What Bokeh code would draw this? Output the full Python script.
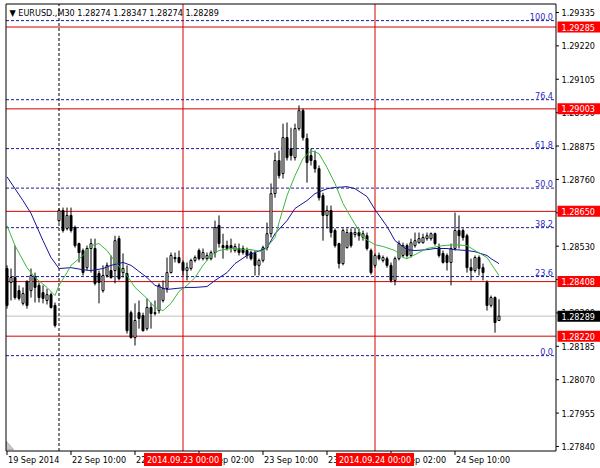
from bokeh.plotting import figure
from bokeh.models import Range1d, ColumnDataSource
from bokeh.core.properties import value
from bokeh.embed import file_html
from bokeh.resources import INLINE

# ---------------- data ----------------
symbol = "EURUSD.,M30"
last_ohlc = [1.28274, 1.28347, 1.28274, 1.28289]

opens = [
    1.28453, 1.28405, 1.28422, 1.28377, 1.28333, 1.28409, 1.28377, 1.28425, 1.28395, 1.28370,
    1.28343, 1.28363, 1.28326, 1.28618, 1.28653, 1.28591, 1.28636, 1.28594, 1.28539, 1.28515,
    1.28456, 1.28522, 1.28522, 1.28436, 1.28377, 1.28429, 1.28446, 1.28446, 1.28556, 1.28439,
    1.28436, 1.28301, 1.28215, 1.28301, 1.28291, 1.28246, 1.28319, 1.28298, 1.28308, 1.28343,
    1.28384, 1.28439, 1.28491, 1.28491, 1.28474, 1.28446, 1.28453, 1.28481, 1.28515, 1.28487,
    1.28487, 1.28487, 1.28508, 1.28601, 1.28532, 1.28532, 1.28532, 1.28515, 1.28522, 1.28522,
    1.28515, 1.28508, 1.28505, 1.28464, 1.28481, 1.28525, 1.28573, 1.28711, 1.28825, 1.28780,
    1.28904, 1.28866, 1.28835, 1.28935, 1.28997, 1.28901, 1.28842, 1.28825, 1.28797, 1.28704,
    1.28636, 1.28653, 1.28584, 1.28539, 1.28470, 1.28525, 1.28577, 1.28570, 1.28577, 1.28560,
    1.28566, 1.28515, 1.28464, 1.28498, 1.28481, 1.28487, 1.28464, 1.28412, 1.28487, 1.28498,
    1.28532, 1.28498, 1.28532, 1.28542, 1.28542, 1.28556, 1.28556, 1.28573, 1.28525, 1.28505,
    1.28498, 1.28474, 1.28522, 1.28584, 1.28584, 1.28566, 1.28456, 1.28446, 1.28491, 1.28456,
    1.28405, 1.28326, 1.28353, 1.28274,
]
highs = [
    1.28464, 1.28453, 1.28532, 1.28395, 1.28388, 1.28412, 1.28453, 1.28439, 1.28405, 1.28395,
    1.28384, 1.28370, 1.28336, 1.28660, 1.28663, 1.28663, 1.28663, 1.28601, 1.28542, 1.28522,
    1.28532, 1.28556, 1.28556, 1.28446, 1.28464, 1.28474, 1.28498, 1.28566, 1.28566, 1.28505,
    1.28464, 1.28308, 1.28333, 1.28343, 1.28301, 1.28350, 1.28336, 1.28343, 1.28402, 1.28412,
    1.28491, 1.28508, 1.28508, 1.28515, 1.28481, 1.28474, 1.28487, 1.28498, 1.28522, 1.28522,
    1.28508, 1.28515, 1.28618, 1.28636, 1.28573, 1.28549, 1.28556, 1.28539, 1.28539, 1.28532,
    1.28525, 1.28515, 1.28515, 1.28487, 1.28532, 1.28611, 1.28746, 1.28852, 1.28859, 1.28952,
    1.28956, 1.28938, 1.28952, 1.29015, 1.29004, 1.28918, 1.28866, 1.28859, 1.28808, 1.28714,
    1.28670, 1.28670, 1.28591, 1.28542, 1.28591, 1.28591, 1.28591, 1.28594, 1.28591, 1.28584,
    1.28577, 1.28522, 1.28505, 1.28508, 1.28498, 1.28494, 1.28474, 1.28494, 1.28549, 1.28542,
    1.28539, 1.28556, 1.28577, 1.28577, 1.28573, 1.28577, 1.28577, 1.28577, 1.28539, 1.28515,
    1.28505, 1.28539, 1.28646, 1.28636, 1.28591, 1.28573, 1.28487, 1.28498, 1.28498, 1.28470,
    1.28412, 1.28360, 1.28357, 1.28347,
]
lows = [
    1.28315, 1.28343, 1.28346, 1.28343, 1.28326, 1.28315, 1.28353, 1.28336, 1.28336, 1.28333,
    1.28329, 1.28315, 1.28250, 1.28611, 1.28577, 1.28584, 1.28577, 1.28525, 1.28474, 1.28429,
    1.28446, 1.28439, 1.28395, 1.28333, 1.28370, 1.28422, 1.28418, 1.28402, 1.28412, 1.28422,
    1.28229, 1.28212, 1.28188, 1.28246, 1.28236, 1.28239, 1.28246, 1.28291, 1.28298, 1.28336,
    1.28370, 1.28436, 1.28474, 1.28470, 1.28429, 1.28412, 1.28446, 1.28474, 1.28481, 1.28481,
    1.28481, 1.28481, 1.28491, 1.28525, 1.28487, 1.28515, 1.28508, 1.28508, 1.28498, 1.28501,
    1.28487, 1.28481, 1.28429, 1.28429, 1.28474, 1.28515, 1.28560, 1.28697, 1.28763, 1.28763,
    1.28825, 1.28825, 1.28825, 1.28928, 1.28894, 1.28749, 1.28808, 1.28783, 1.28687, 1.28549,
    1.28591, 1.28560, 1.28525, 1.28453, 1.28464, 1.28522, 1.28525, 1.28560, 1.28549, 1.28549,
    1.28515, 1.28432, 1.28456, 1.28481, 1.28474, 1.28456, 1.28405, 1.28395, 1.28481, 1.28491,
    1.28491, 1.28491, 1.28525, 1.28539, 1.28539, 1.28549, 1.28549, 1.28532, 1.28491, 1.28470,
    1.28446, 1.28395, 1.28515, 1.28522, 1.28549, 1.28439, 1.28412, 1.28439, 1.28429, 1.28412,
    1.28308, 1.28319, 1.28232, 1.28274,
]
closes = [
    1.28326, 1.28422, 1.28353, 1.28350, 1.28367, 1.28326, 1.28429, 1.28388, 1.28353, 1.28350,
    1.28363, 1.28319, 1.28257, 1.28653, 1.28584, 1.28636, 1.28584, 1.28532, 1.28508, 1.28439,
    1.28522, 1.28539, 1.28402, 1.28405, 1.28429, 1.28464, 1.28422, 1.28549, 1.28418, 1.28453,
    1.28239, 1.28215, 1.28274, 1.28281, 1.28239, 1.28319, 1.28298, 1.28301, 1.28395, 1.28384,
    1.28439, 1.28498, 1.28487, 1.28474, 1.28446, 1.28456, 1.28481, 1.28491, 1.28487, 1.28508,
    1.28498, 1.28508, 1.28594, 1.28539, 1.28525, 1.28522, 1.28522, 1.28529, 1.28508, 1.28508,
    1.28498, 1.28487, 1.28464, 1.28481, 1.28525, 1.28573, 1.28711, 1.28825, 1.28773, 1.28904,
    1.28835, 1.28842, 1.28935, 1.28997, 1.28904, 1.28818, 1.28825, 1.28797, 1.28697, 1.28636,
    1.28653, 1.28577, 1.28532, 1.28470, 1.28584, 1.28577, 1.28532, 1.28577, 1.28566, 1.28573,
    1.28522, 1.28439, 1.28498, 1.28487, 1.28491, 1.28464, 1.28412, 1.28487, 1.28539, 1.28532,
    1.28498, 1.28542, 1.28549, 1.28556, 1.28560, 1.28566, 1.28573, 1.28539, 1.28498, 1.28474,
    1.28474, 1.28522, 1.28584, 1.28566, 1.28560, 1.28456, 1.28446, 1.28491, 1.28453, 1.28439,
    1.28326, 1.28353, 1.28267, 1.28289,
]

blue_ma_bars = [0, 4, 6, 9, 11, 13, 16, 19, 21, 24, 26, 29, 31, 35, 37, 40, 42, 45, 47, 50,
                52, 55, 57, 60, 62, 65, 67, 70, 72, 75, 77, 80, 82, 85, 87, 90, 92, 95, 97, 100,
                102, 105, 107, 110, 112, 115, 117, 120, 121, 123]
blue_ma = [1.28769, 1.28687, 1.28643, 1.28549, 1.28491, 1.28453, 1.28456, 1.28449, 1.28446, 1.28453,
           1.28464, 1.28474, 1.28464, 1.28422, 1.28395, 1.28381, 1.28384, 1.28388, 1.28388, 1.28391,
           1.28412, 1.28439, 1.28470, 1.28498, 1.28508, 1.28525, 1.28573, 1.28618, 1.28660, 1.28687,
           1.28711, 1.28728, 1.28732, 1.28735, 1.28728, 1.28701, 1.28656, 1.28598, 1.28549, 1.28518,
           1.28515, 1.28518, 1.28522, 1.28522, 1.28518, 1.28515, 1.28511, 1.28498, 1.28487, 1.28470]

green_ma_bars = [0, 2, 5, 7, 10, 12, 13, 15, 16, 19, 21, 23, 25, 27, 30, 32, 35, 37, 39, 41,
                 43, 45, 47, 49, 51, 53, 56, 61, 64, 67, 68, 70, 72, 74, 76, 78, 80, 82, 84, 86,
                 89, 92, 94, 97, 99, 100, 103, 105, 109, 112, 115, 117, 120, 121, 123]
green_ma = [1.28601, 1.28532, 1.28456, 1.28422, 1.28388, 1.28360, 1.28395, 1.28439, 1.28464, 1.28498,
            1.28532, 1.28539, 1.28515, 1.28477, 1.28429, 1.28388, 1.28350, 1.28319, 1.28308, 1.28333,
            1.28374, 1.28395, 1.28422, 1.28464, 1.28498, 1.28515, 1.28522, 1.28518, 1.28511, 1.28560,
            1.28611, 1.28704, 1.28773, 1.28832, 1.28859, 1.28849, 1.28801, 1.28746, 1.28677, 1.28629,
            1.28560, 1.28535, 1.28529, 1.28515, 1.28491, 1.28487, 1.28508, 1.28522, 1.28532, 1.28535,
            1.28532, 1.28515, 1.28491, 1.28470, 1.28429]

price_ticks = [1.29335, 1.29220, 1.29105, 1.28990, 1.28875, 1.28760, 1.28645,
               1.28530, 1.28415, 1.28300, 1.28185, 1.28070, 1.27955, 1.27840]
time_label_bars = [0, 16, 32, 48, 64, 80, 96, 112]
time_labels = ["19 Sep 2014", "22 Sep 10:00", "22 Sep 18:00", "23 Sep 02:00",
               "23 Sep 10:00", "23 Sep 18:00", "24 Sep 02:00", "24 Sep 10:00"]

red_levels = [1.29285, 1.29003, 1.28650, 1.28408, 1.28220]
bid_price = 1.28289
fib_low = 1.28153
fib_high = 1.29307
fib_levels = [0.0, 23.6, 38.2, 50.0, 61.8, 76.4, 100.0]
red_vline_bars = [44, 92]
red_vline_labels = ["2014.09.23 00:00", "2014.09.24 00:00"]
separator_bar = 13

# ---------------- layout helpers (pixels -> data) ----------------
W, H = 600, 468
BAR0_PX, BAR_PX = 6.5, 4.0          # pixel x of bar 0, pixels per bar
Y_TOP, Y_BOT = 1.293763, 1.277642   # price shown at top / bottom pixel row


def bx(px):
    return (px - BAR0_PX) / BAR_PX


def py(pixel_y):
    return Y_TOP - pixel_y * (Y_TOP - Y_BOT) / H


def dpy(n):
    return n * (Y_TOP - Y_BOT) / H


FL, FR = bx(5.5), bx(555.5)     # chart frame left/right
FT, FB = py(3.5), py(450.5)     # chart frame top/bottom

FONT = value("DejaVu Sans Condensed")
FS = value("9px")
RED_LINE = "#d40000"
RED_BOX = "#ff0000"
FIB_COLOR = "#1c1c9c"
FIB_TEXT = "#2a2ac8"
GREEN_MA = "#3cb83c"
BLUE_MA = "#14149c"

p = figure(width=W, height=H, output_backend="svg", toolbar_location=None, tools="",
           x_range=Range1d(bx(0), bx(W)), y_range=Range1d(Y_BOT, Y_TOP),
           x_axis_location=None, y_axis_location=None, min_border=0)
p.xgrid.visible = False
p.ygrid.visible = False
p.outline_line_color = None
p.background_fill_color = "white"
p.border_fill_color = "white"

# ---------------- level lines ----------------
fib_prices = [fib_low + (fib_high - fib_low) * lvl / 100.0 for lvl in fib_levels]
p.segment(x0=[FL] * len(fib_prices), x1=[FR] * len(fib_prices), y0=fib_prices, y1=fib_prices,
          line_color=FIB_COLOR, line_width=1, line_dash="3 2")
p.text(x=[FR] * len(fib_prices), y=[v + dpy(1) for v in fib_prices],
       text=[f"{lvl:.1f}" for lvl in fib_levels], x_offset=-3,
       text_align="right", text_baseline="bottom", text_font=FONT,
       text_font_size=FS, text_color=FIB_TEXT)

p.segment(x0=[FL], x1=[FR], y0=[bid_price], y1=[bid_price], line_color="#c0c0c0", line_width=1)
p.segment(x0=[FL] * len(red_levels), x1=[FR] * len(red_levels), y0=red_levels, y1=red_levels,
          line_color=RED_LINE, line_width=1)

p.segment(x0=[separator_bar], x1=[separator_bar], y0=[FB], y1=[FT],
          line_color="black", line_width=1, line_dash="3 2")
p.segment(x0=red_vline_bars, x1=red_vline_bars, y0=[FB] * len(red_vline_bars),
          y1=[FT] * len(red_vline_bars), line_color=RED_LINE, line_width=1)

# ---------------- candles ----------------
N = len(closes)
bars = list(range(N))
src = ColumnDataSource(dict(
    x=bars, o=opens, h=highs, l=lows, c=closes,
    top=[max(o, c) for o, c in zip(opens, closes)],
    bottom=[min(o, c) for o, c in zip(opens, closes)],
    fill=["white" if c >= o else "black" for o, c in zip(opens, closes)],
))
p.segment(x0="x", y0="l", x1="x", y1="h", line_color="black", line_width=1, source=src)
p.vbar(x="x", width=0.5, top="top", bottom="bottom", fill_color="fill",
       line_color="black", line_width=1, source=src)

# ---------------- moving averages ----------------
p.line(blue_ma_bars, blue_ma, line_color=BLUE_MA, line_width=1)
p.line(green_ma_bars, green_ma, line_color=GREEN_MA, line_width=1)

# shift marker (small grey triangle bottom-left)
p.patch(x=[bx(6), bx(6), bx(13)], y=[py(441), py(449), py(449)],
        fill_color="#c8c8c8", line_color="#b0b0b0", line_width=1)

# ---------------- chart frame ----------------
p.quad(left=[FL], right=[FR], top=[FT], bottom=[FB], fill_color=None,
       line_color="black", line_width=1)

# ---------------- right price scale ----------------
nt = len(price_ticks)
p.segment(x0=[FR] * nt, x1=[bx(558.5)] * nt, y0=price_ticks, y1=price_ticks,
          line_color="black", line_width=1)
p.text(x=[bx(561)] * nt, y=price_ticks, text=[f"{v:.5f}" for v in price_ticks],
       text_align="left", text_baseline="middle", text_font=FONT, text_font_size=FS,
       text_color="black")

box_prices = red_levels + [bid_price]
box_colors = [RED_BOX] * len(red_levels) + ["black"]
nb = len(box_prices)
p.quad(left=[bx(557)] * nb, right=[bx(600)] * nb,
       top=[v + dpy(5.5) for v in box_prices], bottom=[v - dpy(5.5) for v in box_prices],
       fill_color=box_colors, line_color=None)
p.text(x=[bx(561)] * nb, y=box_prices, text=[f"{v:.5f}" for v in box_prices],
       text_align="left", text_baseline="middle", text_font=FONT, text_font_size=FS,
       text_color="white")

# ---------------- bottom time scale ----------------
ntl = len(time_label_bars)
p.segment(x0=time_label_bars, x1=time_label_bars, y0=[FB] * ntl, y1=[py(454.5)] * ntl,
          line_color="black", line_width=1)
p.text(x=time_label_bars, y=[py(459)] * ntl, text=time_labels, x_offset=1,
       text_align="left", text_baseline="middle", text_font=FONT, text_font_size=FS,
       text_color="black")

nv = len(red_vline_bars)
p.quad(left=[b - 39 / BAR_PX for b in red_vline_bars], right=[b + 39 / BAR_PX for b in red_vline_bars],
       top=[py(452.5)] * nv, bottom=[py(465.5)] * nv, fill_color=RED_BOX, line_color=None)
p.text(x=red_vline_bars, y=[py(459)] * nv, text=red_vline_labels,
       text_align="center", text_baseline="middle", text_font=FONT, text_font_size=FS,
       text_color="white")

# ---------------- title ----------------
title = "\u25bc " + symbol + "  " + " ".join(f"{v:.5f}" for v in last_ohlc)
p.text(x=[bx(9)], y=[py(12)], text=[title], text_align="left", text_baseline="middle",
       text_font=FONT, text_font_size=FS, text_color="black")

open("out.html", "w").write(file_html(p, INLINE))
